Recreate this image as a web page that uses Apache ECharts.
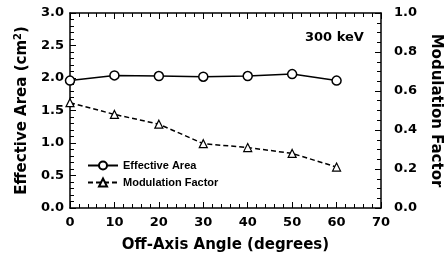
<!DOCTYPE html>
<html>
<head>
<meta charset="utf-8">
<script src="https://cdn.jsdelivr.net/npm/echarts@6/dist/echarts.min.js"></script>
<style>
  html, body { margin: 0; padding: 0; background: #fff; }
  #chart { width: 444px; height: 262px; }
</style>
</head>
<body>
<div id="chart"></div>
<script>
// off-axis angle in degrees
const angles = [0, 10, 20, 30, 40, 50, 60];
// effective area (cm^2), left axis
const effArea = [1.96, 2.04, 2.03, 2.02, 2.03, 2.06, 1.96];
// modulation factor, right axis
const modFactor = [0.54, 0.48, 0.43, 0.33, 0.31, 0.28, 0.21];

const font = "DejaVu Sans";
const chart = echarts.init(document.getElementById("chart"));

const pairs = (ys) => angles.map((a, i) => [a, ys[i]]);

const tickStyle = { color: "#000", width: 1 };
const lineStyle = { color: "#000", width: 1.5 };
const labelStyle = { fontFamily: font, fontSize: 13, fontWeight: "bold", color: "#000" };
const nameStyle = { fontFamily: font, fontSize: 15, fontWeight: "bold", color: "#000" };

let option = {
  animation: false,
  textStyle: { fontFamily: font, color: "#000" },
  grid: { left: 70, right: 63, top: 13, bottom: 54, outerBoundsMode: "none", containLabel: false },
  graphic: [
    {
      type: "text",
      left: 305,
      top: 31,
      style: { text: "300 keV", font: "bold 13px '" + font + "'", fill: "#000" }
    }
  ],
  legend: {
    orient: "vertical",
    left: 82,
    top: 155,
    itemWidth: 30,
    itemHeight: 10,
    itemGap: 6,
    textStyle: { fontFamily: "Liberation Sans", fontSize: 11, fontWeight: "bold", color: "#000" },
    data: ["Effective Area", "Modulation Factor"]
  },
  xAxis: [
    {
      type: "value",
      min: 0,
      max: 70,
      interval: 10,
      name: "Off-Axis Angle (degrees)",
      nameLocation: "middle",
      nameGap: 30,
      nameTextStyle: nameStyle,
      axisLine: { onZero: false, lineStyle: lineStyle },
      axisTick: { inside: true, length: 6, lineStyle: tickStyle },
      minorTick: { show: true, splitNumber: 5, length: 4, lineStyle: tickStyle },
      axisLabel: Object.assign({ margin: 8 }, labelStyle),
      splitLine: { show: false }
    },
    {
      type: "value",
      position: "top",
      min: 0,
      max: 70,
      interval: 10,
      axisLine: { show: true, onZero: false, lineStyle: lineStyle },
      axisTick: { inside: true, length: 6, lineStyle: tickStyle },
      minorTick: { show: true, splitNumber: 5, length: 4, lineStyle: tickStyle },
      axisLabel: { show: false },
      splitLine: { show: false }
    }
  ],
  yAxis: [
    {
      type: "value",
      min: 0,
      max: 3,
      interval: 0.5,
      name: "{a|Effective Area (cm}{s|2}{a|)}",
      nameLocation: "middle",
      nameRotate: 90,
      nameGap: 38,
      nameTextStyle: {
        rich: {
          a: nameStyle,
          s: { fontFamily: font, fontSize: 10, fontWeight: "bold", color: "#000", verticalAlign: "top", padding: [0, 0, 8, 0] }
        }
      },
      axisLine: { show: true, onZero: false, lineStyle: lineStyle },
      axisTick: { inside: true, length: 6, lineStyle: tickStyle },
      minorTick: { show: true, splitNumber: 5, length: 4, lineStyle: tickStyle },
      axisLabel: Object.assign({ margin: 6, formatter: (v) => v.toFixed(1) }, labelStyle),
      splitLine: { show: false }
    },
    {
      type: "value",
      min: 0,
      max: 1,
      interval: 0.2,
      position: "right",
      name: "Modulation Factor",
      nameLocation: "middle",
      nameRotate: -90,
      nameGap: 46,
      nameTextStyle: nameStyle,
      axisLine: { show: true, onZero: false, lineStyle: lineStyle },
      axisTick: { inside: true, length: 6, lineStyle: tickStyle },
      minorTick: { show: true, splitNumber: 4, length: 4, lineStyle: tickStyle },
      axisLabel: Object.assign({ margin: 13, formatter: (v) => v.toFixed(1) }, labelStyle),
      splitLine: { show: false }
    }
  ],
  series: [
    {
      name: "Effective Area",
      type: "line",
      xAxisIndex: 0,
      yAxisIndex: 0,
      data: pairs(effArea),
      symbol: "circle",
      symbolSize: 9,
      lineStyle: { color: "#000", width: 1.5 },
      itemStyle: { color: "#fff", borderColor: "#000", borderWidth: 1.5 }
    },
    {
      name: "Modulation Factor",
      type: "line",
      xAxisIndex: 0,
      yAxisIndex: 1,
      data: pairs(modFactor),
      symbol: "triangle",
      symbolSize: 8,
      lineStyle: { color: "#000", width: 1.5, type: [5, 3] },
      itemStyle: { color: "#fff", borderColor: "#000", borderWidth: 1.2 }
    }
  ]
};

chart.setOption(option);
</script>
</body>
</html>
